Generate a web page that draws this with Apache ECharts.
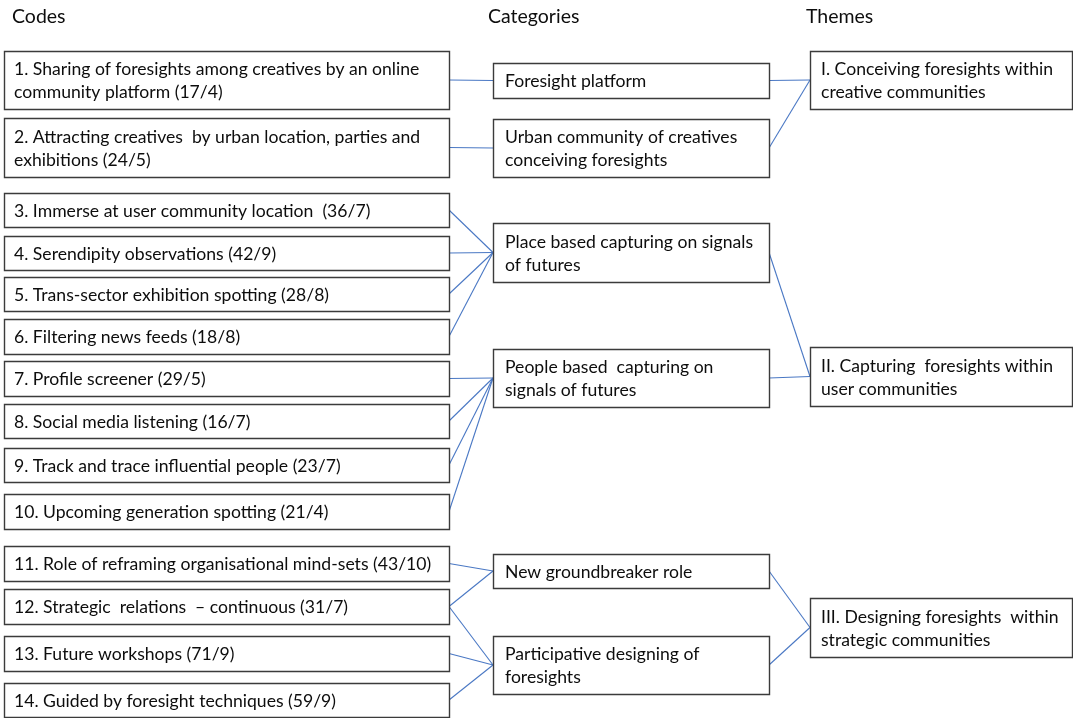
<!DOCTYPE html>
<html>
<head>
<meta charset="utf-8">
<script src="https://cdn.jsdelivr.net/npm/echarts@6/dist/echarts.min.js"></script>
<style>
html,body{margin:0;padding:0;background:#fff;}
#chart{width:1073px;height:718px;}
</style>
</head>
<body>
<div id="chart"></div>
<script>
// ---- Content data ----
const columnTitles = ['Codes', 'Categories', 'Themes'];
const codes = [
  '1. Sharing of foresights among creatives by an online\ncommunity platform (17/4)',
  '2. Attracting creatives  by urban location, parties and\nexhibitions (24/5)',
  '3. Immerse at user community location  (36/7)',
  '4. Serendipity observations (42/9)',
  '5. Trans-sector exhibition spotting (28/8)',
  '6. Filtering news feeds (18/8)',
  '7. Profile screener (29/5)',
  '8. Social media listening (16/7)',
  '9. Track and trace influential people (23/7)',
  '10. Upcoming generation spotting (21/4)',
  '11. Role of reframing organisational mind-sets (43/10)',
  '12. Strategic  relations  \u2013 continuous (31/7)',
  '13. Future workshops (71/9)',
  '14. Guided by foresight techniques (59/9)'
];
const categories = [
  'Foresight platform',
  'Urban community of creatives\nconceiving foresights',
  'Place based capturing on signals\nof futures',
  'People based  capturing on\nsignals of futures',
  'New groundbreaker role',
  'Participative designing of\nforesights'
];
const themes = [
  'I. Conceiving foresights within\ncreative communities',
  'II. Capturing  foresights within\nuser communities',
  'III. Designing foresights  within\nstrategic communities'
];
const codeToCategory = [[0,0],[1,1],[2,2],[3,2],[4,2],[5,2],[6,3],[7,3],[8,3],[9,3],[10,4],[11,4],[11,5],[12,5],[13,5]];
const categoryToTheme = [[0,0],[1,0],[2,1],[3,1],[4,2],[5,2]];

// ---- Layout (diagram coordinates) ----
const titleX = [12, 488, 806];
const titleY = 17;
const codeCol = [4, 449];
const codeRows = [[51,109],[118,177],[193,227],[236,270],[277,311],[319,354],[361,396],[404,438],[448,482],[494,529],[546,581],[589,624],[636,671],[683,717]];
const catCol = [493, 769];
const catRows = [[63,98],[119,177],[223,282],[349,407],[554,588],[636,694]];
const themeCol = [810, 1072];
const themeRows = [[51,109],[347,406],[598,657]];

const FONT = 'Lato, "Open Sans", sans-serif';
const FONT_SIZE = 17.6;
const TITLE_SIZE = 19.5;
const TEXT_COLOR = '#0d0d0d';
const BOX_STROKE = '#3b3b3b';
const LINK_COLOR = '#4a78c4';

function boxes(texts, col, rows, pad) {
  return texts.map((t, i) => ({ name: t, value: [col[0], rows[i][0], col[1], rows[i][1], pad] }));
}
const boxData = [].concat(
  boxes(codes, codeCol, codeRows, 10),
  boxes(categories, catCol, catRows, 12),
  boxes(themes, themeCol, themeRows, 11)
);
function mid(r) { return (r[0] + r[1]) / 2; }
const linkData = [];
codeToCategory.forEach(([a, b]) => linkData.push({ value: [codeCol[1], mid(codeRows[a]), catCol[0], mid(catRows[b])] }));
categoryToTheme.forEach(([a, b]) => linkData.push({ value: [catCol[1], mid(catRows[a]), themeCol[0], mid(themeRows[b])] }));
const titleData = columnTitles.map((t, i) => ({ name: t, value: [titleX[i], titleY] }));

const chart = echarts.init(document.getElementById('chart'), null, { renderer: 'canvas' });
chart.setOption({
  animation: false,
  backgroundColor: '#ffffff',
  grid: { left: 0, right: 0, top: 0, bottom: 0 },
  xAxis: { type: 'value', min: 0, max: 1073, show: false },
  yAxis: { type: 'value', min: 0, max: 718, inverse: true, show: false },
  series: [
    {
      type: 'custom',
      name: 'links',
      data: linkData,
      renderItem: function (params, api) {
        const p1 = api.coord([api.value(0), api.value(1)]);
        const p2 = api.coord([api.value(2), api.value(3)]);
        return {
          type: 'line',
          shape: { x1: p1[0], y1: p1[1], x2: p2[0], y2: p2[1] },
          style: { stroke: LINK_COLOR, lineWidth: 1.1 }
        };
      },
      z: 1
    },
    {
      type: 'custom',
      name: 'boxes',
      data: boxData,
      renderItem: function (params, api) {
        const p1 = api.coord([api.value(0), api.value(1)]);
        const p2 = api.coord([api.value(2), api.value(3)]);
        const pad = api.value(4);
        const name = boxData[params.dataIndex].name;
        return {
          type: 'group',
          children: [
            {
              type: 'rect',
              shape: { x: p1[0] + 0.5, y: p1[1] + 0.5, width: p2[0] - p1[0], height: p2[1] - p1[1] },
              style: { fill: '#ffffff', stroke: BOX_STROKE, lineWidth: 1.4 }
            },
            {
              type: 'text',
              style: {
                text: name,
                x: p1[0] + pad,
                y: (p1[1] + p2[1]) / 2 + 1,
                verticalAlign: 'middle',
                align: 'left',
                font: FONT_SIZE + 'px ' + FONT,
                lineHeight: 23,
                fill: TEXT_COLOR
              }
            }
          ]
        };
      },
      z: 2
    },
    {
      type: 'custom',
      name: 'titles',
      data: titleData,
      renderItem: function (params, api) {
        const p = api.coord([api.value(0), api.value(1)]);
        return {
          type: 'text',
          style: {
            text: titleData[params.dataIndex].name,
            x: p[0], y: p[1],
            verticalAlign: 'middle',
            align: 'left',
            font: TITLE_SIZE + 'px ' + FONT,
            fill: TEXT_COLOR
          }
        };
      },
      z: 3
    }
  ]
});
</script>
</body>
</html>
